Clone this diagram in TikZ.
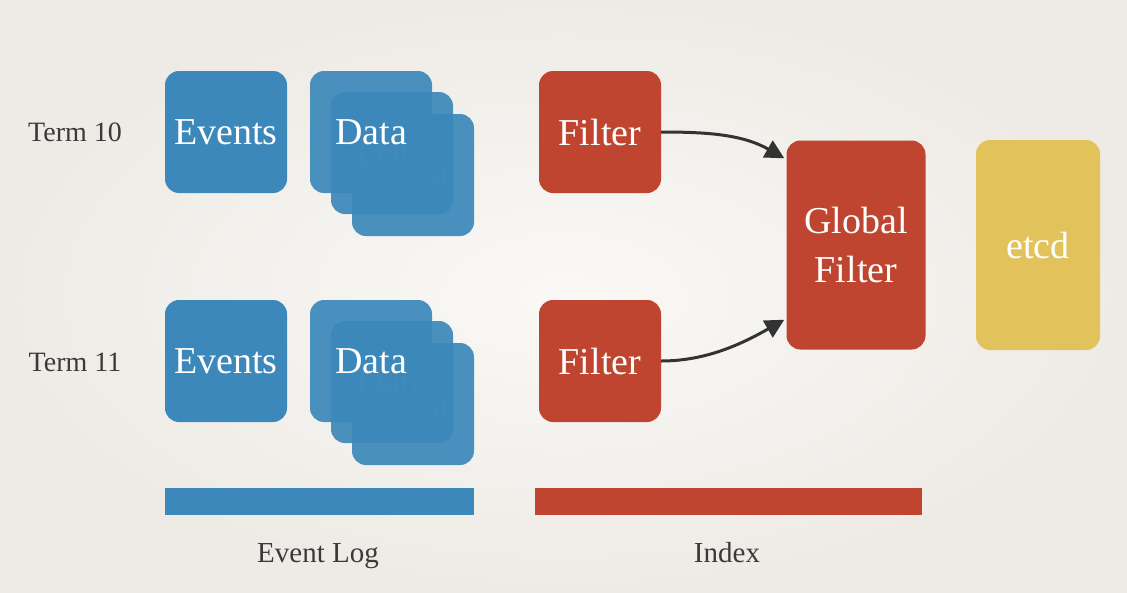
\documentclass[tikz,border=0pt]{standalone}
\usepackage{fontspec}
\setmainfont{Liberation Serif}
\usetikzlibrary{arrows.meta}
\definecolor{paper}{HTML}{F4F2ED}
\definecolor{paperedge}{HTML}{EEEBE6}
\definecolor{logblue}{HTML}{3C88BA}
\definecolor{idxred}{HTML}{BF4530}
\definecolor{etcdyellow}{HTML}{E2C25B}
\definecolor{ink}{HTML}{3A3A3A}
\definecolor{arrowink}{HTML}{333333}
\tikzset{
  tile/.style={rectangle, rounded corners=14pt, minimum width=122pt, minimum height=122pt,
    inner sep=0pt, text=white, font=\fontsize{38}{42}\selectfont},
  bluetile/.style={tile, fill=logblue},
  redtile/.style={tile, fill=idxred},
  stacktile/.style={bluetile, fill opacity=0.92, text opacity=1},
  ghosttile/.style={bluetile, fill opacity=0.92, text opacity=0.25},
  termlabel/.style={text=ink, font=\fontsize{28}{32}\selectfont},
  caption/.style={text=ink, font=\fontsize{29}{33}\selectfont, anchor=base},
  bar/.style={rectangle, inner sep=0pt, minimum height=27pt},
  link/.style={draw=arrowink, line width=3pt, -{Triangle[length=19pt,width=19pt]}}
}
\begin{document}
\begin{tikzpicture}[x=1pt,y=-1pt]
  % paper background with a faint vignette
  \useasboundingbox (0,0) rectangle (1127,592);
  \shade[inner color=paper!50!white, outer color=paperedge] (0,0) rectangle (1127,592);

  % row labels
  \node[termlabel] (t10) at (75,132) {Term 10};
  \node[termlabel] (t11) at (75,362) {Term 11};

  % term 10 row
  \node[bluetile] (ev1) at (226,132) {Events};
  \node[ghosttile] (d1c) at (413,175) {Data};
  \node[ghosttile] (d1b) at (392,153) {Data};
  \node[stacktile] (d1a) at (371,132) {Data};
  \node[redtile] (f1) at (600,132) {Filter};

  % term 11 row
  \node[bluetile] (ev2) at (226,361) {Events};
  \node[ghosttile] (d2c) at (413,404) {Data};
  \node[ghosttile] (d2b) at (392,382) {Data};
  \node[stacktile] (d2a) at (371,361) {Data};
  \node[redtile] (f2) at (600,361) {Filter};

  % global filter and etcd
  \node[redtile, minimum width=139pt, minimum height=209pt, align=center,
        font=\fontsize{38}{49}\selectfont] (gf) at (856,245) {Global\\Filter};
  \node[tile, fill=etcdyellow, minimum width=124pt, minimum height=210pt] (etcd) at (1038,245) {etcd};

  % connectors into the global filter
  \coordinate (gfin1) at ([xshift=-2pt,yshift=-18pt]gf.north west);
  \coordinate (gfin2) at ([xshift=-2pt,yshift=30pt]gf.south west);
  \path[link] (f1.east) .. controls +(45,0) and +(-42,-24) .. (gfin1);
  \path[link] (f2.east) .. controls +(45,0) and +(-42,24) .. (gfin2);

  % layer bars and their captions
  \node[bar, fill=logblue, minimum width=309pt] (barlog) at (319.5,501) {};
  \node[bar, fill=idxred, minimum width=387pt] (baridx) at (728.5,501) {};
  \node[caption] (lbllog) at (318,562) {Event Log};
  \node[caption] (lblidx) at (727,562) {Index};
\end{tikzpicture}
\end{document}
